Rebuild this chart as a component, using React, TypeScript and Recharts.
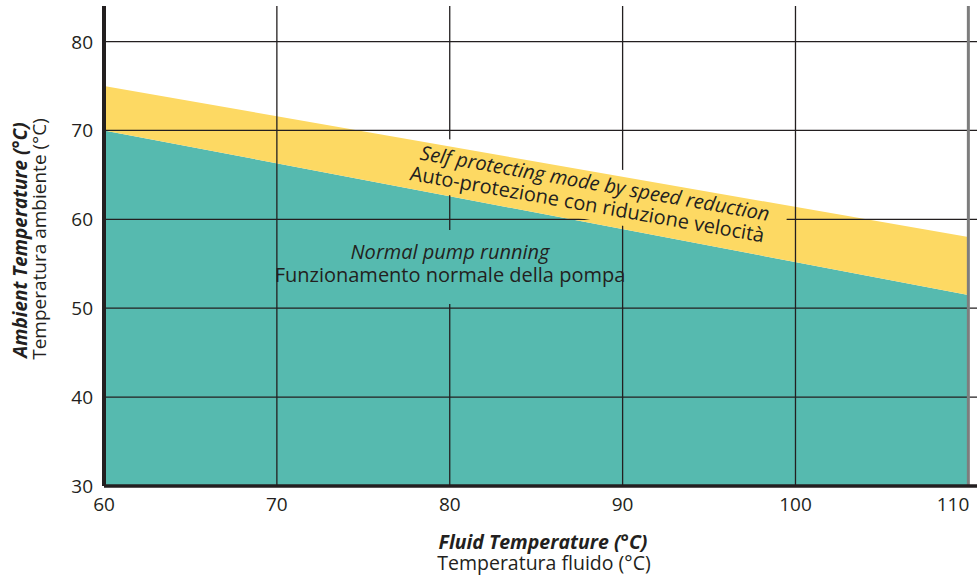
import { AreaChart, Area, XAxis, YAxis, ReferenceLine } from "recharts";

// operating limits (fluid °C -> ambient °C)
const fluidTemp = [60, 110];
const normalLimit = [70, 51.5];
const protectLimit = [75, 58];

const xTicks = [60, 70, 80, 90, 100, 110];
const yTicks = [30, 40, 50, 60, 70, 80];

const INK = "#231f20";
const TEAL = "#56baaf";
const YELLOW = "#fdd963";
const FONT = "'Open Sans', sans-serif";

const data = fluidTemp.map((f, i) => ({
  fluid: f,
  normal: normalLimit[i],
  band: [normalLimit[i], protectLimit[i]],
}));

function XTick({ x, y, payload }: any) {
  const last = payload.value === xTicks[xTicks.length - 1];
  return (
    <text
      x={last ? x + 4 : x}
      y={y + 25}
      textAnchor={last ? "end" : "middle"}
      fontSize={19}
      fontFamily={FONT}
      fill={INK}
    >
      {payload.value}
    </text>
  );
}

function YTick({ x, y, payload }: any) {
  return (
    <text x={x - 11} y={y + 7} textAnchor="end" fontSize={19} fontFamily={FONT} fill={INK}>
      {payload.value}
    </text>
  );
}

export default function App() {
  return (
    <div style={{ position: "absolute", left: 0, top: 0, width: 977, height: 579, background: "#fff" }}>
      <style>{`.recharts-reference-line line { mask: url(#gridKnockout); }`}</style>
      <AreaChart width={977} height={579} data={data} margin={{ top: 6, right: 0, left: 0, bottom: 0 }}>
        <XAxis
          dataKey="fluid"
          type="number"
          domain={[60, 110.5]}
          ticks={xTicks}
          allowDataOverflow
          height={93}
          tickLine={false}
          tickSize={0}
          tickMargin={0}
          axisLine={{ stroke: INK, strokeWidth: 3.5 }}
          tick={<XTick />}
        />
        <YAxis
          type="number"
          domain={[30, 84]}
          ticks={yTicks}
          allowDataOverflow
          width={104}
          tickLine={false}
          tickSize={0}
          tickMargin={0}
          axisLine={{ stroke: INK, strokeWidth: 4 }}
          tick={<YTick />}
        />
        <Area
          dataKey="normal"
          type="linear"
          baseValue="dataMin"
          stroke="none"
          fill={TEAL}
          fillOpacity={1}
          isAnimationActive={false}
        />
        <Area
          dataKey="band"
          type="linear"
          stroke="none"
          fill={YELLOW}
          fillOpacity={1}
          isAnimationActive={false}
        />
        {yTicks.slice(1).map((v) => (
          <ReferenceLine key={"h" + v} y={v} stroke={INK} strokeWidth={1.3} />
        ))}
        {xTicks.slice(1, -1).map((v) => (
          <ReferenceLine key={"v" + v} x={v} stroke={INK} strokeWidth={1.3} />
        ))}
        <ReferenceLine x={110} stroke="#7d7d7d" strokeWidth={3} />
      </AreaChart>

      <svg
        width={977}
        height={579}
        style={{ position: "absolute", left: 0, top: 0, pointerEvents: "none" }}
        fontFamily={FONT}
        fill={INK}
      >
        <defs>
          <mask id="gridKnockout" maskUnits="userSpaceOnUse" x={0} y={0} width={977} height={579}>
            <rect x={0} y={0} width={977} height={579} fill="white" />
            <rect x={280} y={230} width={340} height={74} fill="black" />
            <rect transform="translate(592 200) rotate(10)" x={-190} y={-35} width={385} height={55} fill="black" />
          </mask>
        </defs>

        <g transform="translate(592 200) rotate(10)" fontSize={20}>
          <text x={0} y={-10} textAnchor="middle" fontStyle="italic">
            Self protecting mode by speed reduction
          </text>
          <text x={-4} y={12} textAnchor="middle">
            Auto-protezione con riduzione velocità
          </text>
        </g>

        <text x={450} y={259} textAnchor="middle" fontSize={20} fontStyle="italic">
          Normal pump running
        </text>
        <text x={450} y={282} textAnchor="middle" fontSize={20}>
          Funzionamento normale della pompa
        </text>

        <text x={543} y={549} textAnchor="middle" fontSize={19.5} fontWeight="bold" fontStyle="italic">
          Fluid Temperature (°C)
        </text>
        <text x={544} y={570} textAnchor="middle" fontSize={19.5}>
          Temperatura fluido (°C)
        </text>

        <text transform="translate(27 240) rotate(-90)" textAnchor="middle" fontSize={19} fontWeight="bold" fontStyle="italic">
          Ambient Temperature (°C)
        </text>
        <text transform="translate(46 239) rotate(-90)" textAnchor="middle" fontSize={19}>
          Temperatura ambiente (°C)
        </text>
      </svg>
    </div>
  );
}
